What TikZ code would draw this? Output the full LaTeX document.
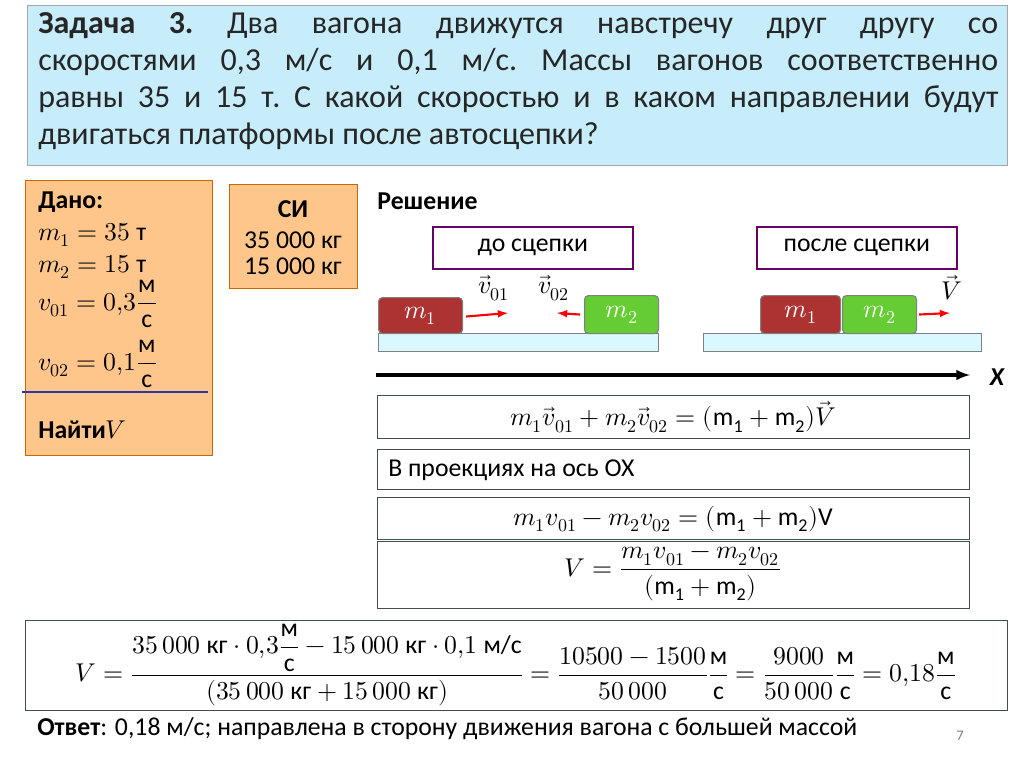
\documentclass[tikz,border=0pt]{standalone}
\usepackage{amsmath}
\usepackage{fontspec}
\usepackage{unicode-math}
\setmainfont{Carlito}
\setmathfont{Latin Modern Math}
\newcommand{\tx}[1]{\mbox{#1}}
\begin{document}
\begin{tikzpicture}[x=0.75pt,y=-0.75pt,
  box/.style={draw=gray!70,line width=0.8pt},
  eqbox/.style={draw=black!60!cyan!60!black,line width=1pt,fill=white},
  lbl/.style={inner sep=0pt,anchor=base west},
  car/.style={draw=black!50,rounded corners=3pt,line width=0.8pt},
  rail/.style={draw=black!50,fill=blue!18!cyan!15},
  redarr/.style={red,line width=1.6pt,-latex},
  phase/.style={draw=violet!80!black,line width=1.2pt,fill=white}]
\useasboundingbox (0,0) rectangle (1024,767);
\fill[white] (0,0) rectangle (1024,767);
\node[box,fill=cyan!22,minimum width=980*0.75pt,minimum height=160*0.75pt,anchor=north west] (title) at (27,5) {};
\node[anchor=north west,inner sep=0pt] (tt) at (38,12) {\parbox{720pt}{\frenchspacing\fontsize{24}{27.7}\selectfont\color{black!85}\textbf{Задача 3.} Два вагона движутся навстречу друг другу со\linebreak скоростями 0,3 м/с и 0,1 м/с. Массы вагонов соответственно\linebreak равны 35 и 15 т. С какой скоростью и в каком направлении будут\linebreak двигаться платформы после автосцепки?}};
\node[draw=orange!80!black,fill=orange!45,minimum width=187*0.75pt,minimum height=275*0.75pt,anchor=north west] (dano) at (25,180) {};
\draw[blue!60!black!80,line width=1.2pt] (22,392) -- (208,392);
\begin{scope}[every node/.style={lbl,font=\fontsize{19.3}{22}\selectfont}]
\node (d0) at (38,208) {\textbf{Дано:}};
\node (d1) at (38,240) {$m_1=35\ \tx{т}$};
\node (d2) at (38,272) {$m_2=15\ \tx{т}$};
\node (d3) at (38,310) {$v_{01}=0{,}3\dfrac{\tx{м}}{\tx{с}}$};
\node (d4) at (38,370) {$v_{02}=0{,}1\dfrac{\tx{м}}{\tx{с}}$};
\node (d5) at (38,438) {\textbf{Найти}$V$};
\end{scope}
\node[draw=orange!80!black,fill=orange!45,minimum width=128*0.75pt,minimum height=104*0.75pt,anchor=north west] (si) at (229,184) {};
\begin{scope}[every node/.style={inner sep=0pt,font=\fontsize{19.3}{22}\selectfont}]
\node (s0) at (293,209) {\textbf{СИ}};
\node (s1) at (293,240) {35 000 кг};
\node (s2) at (293,266) {15 000 кг};
\node[lbl] (res) at (377,209) {\textbf{Решение}};
\end{scope}
\node[phase,minimum width=200*0.75pt,minimum height=42*0.75pt,anchor=north west,font=\fontsize{19.3}{22}\selectfont] (before) at (432,226) {до сцепки};
\node[phase,minimum width=200*0.75pt,minimum height=42*0.75pt,anchor=north west,font=\fontsize{19.3}{22}\selectfont] (after) at (756,226) {после сцепки};
\draw[rail] (378,333) rectangle (658,351);
\draw[rail] (703,333) rectangle (981,351);
\begin{scope}[every node/.append style={font=\fontsize{19.3}{22}\selectfont}]
\node[car,fill=red!60!black!80,minimum width=84*0.75pt,minimum height=36*0.75pt,anchor=north west,text=white] (c1) at (378,297) {$m_1$};
\node[car,fill=green!50!olive!80,minimum width=74*0.75pt,minimum height=38*0.75pt,anchor=north west,text=white] (c2) at (584,295) {$m_2$};
\node[car,fill=red!60!black!80,minimum width=80*0.75pt,minimum height=38*0.75pt,anchor=north west,text=white] (c3) at (760,295) {$m_1$};
\node[car,fill=green!50!olive!80,minimum width=74*0.75pt,minimum height=38*0.75pt,anchor=north west,text=white] (c4) at (842,295) {$m_2$};
\node (v1) at (494,288) {$\vec v_{01}$};
\node (v2) at (554,288) {$\vec v_{02}$};
\node (v3) at (952,288) {$\vec V$};
\end{scope}
\coordinate (a1) at (508,313); \coordinate (a2) at (557,313); \coordinate (a3) at (950,313);
\draw[redarr] (c1.east) ++(3,1) -- (a1);
\draw[redarr] (c2.west) ++(-4,0) -- (a2);
\draw[redarr] (c4.east) ++(2,0) -- (a3);
\coordinate (x0) at (376,375); \coordinate (x1) at (970,375);
\draw[line width=2.5pt,-latex] (x0) -- (x1);
\node[font=\fontsize{19.3}{22}\selectfont\bfseries\itshape] (X) at (997,377) {X};
\begin{scope}[every node/.style={font=\fontsize{19.3}{22}\selectfont}]
\node[eqbox,minimum width=592*0.75pt,minimum height=43*0.75pt,anchor=north west] (e1) at (377,395) {};
\node (e1t) at (673,417) {$m_1\vec v_{01}+m_2\vec v_{02}=(\mathrm{m_1+m_2})\vec V$};
\node[eqbox,minimum width=592*0.75pt,minimum height=40*0.75pt,anchor=north west] (e2) at (377,449) {};
\node[lbl] (e2t) at (388,476) {В проекциях на ось ОХ};
\node[eqbox,minimum width=592*0.75pt,minimum height=42*0.75pt,anchor=north west] (e3) at (377,497) {};
\node (e3t) at (673,519) {$m_1v_{01}-m_2v_{02}=(\mathrm{m_1+m_2})\mathrm{V}$};
\node[eqbox,minimum width=592*0.75pt,minimum height=67*0.75pt,anchor=north west] (e4) at (377,541) {};
\node (e4t) at (673,574) {$V=\dfrac{m_1v_{01}-m_2v_{02}}{(\mathrm{m_1+m_2})}$};
\node[eqbox,minimum width=982*0.75pt,minimum height=90*0.75pt,anchor=north west] (e5) at (25,620) {};
\node (e5t) at (516,665) {$V=\dfrac{35\,000\ \tx{кг}\cdot0{,}3\dfrac{\tx{м}}{\tx{с}}-15\,000\ \tx{кг}\cdot0{,}1\ \tx{м/с}}{(35\,000\ \tx{кг}+15\,000\ \tx{кг})}=\dfrac{10500-1500}{50\,000}\dfrac{\tx{м}}{\tx{с}}=\dfrac{9000}{50\,000}\dfrac{\tx{м}}{\tx{с}}=0{,}18\dfrac{\tx{м}}{\tx{с}}$};
\node[lbl] (ans) at (37,735) {\textbf{Ответ}: 0,18 м/с; направлена в сторону движения вагона с большей массой};
\node[lbl,text=gray,font=\fontsize{11}{13}\selectfont] (pg) at (956,740) {7};
\end{scope}
\end{tikzpicture}
\end{document}
